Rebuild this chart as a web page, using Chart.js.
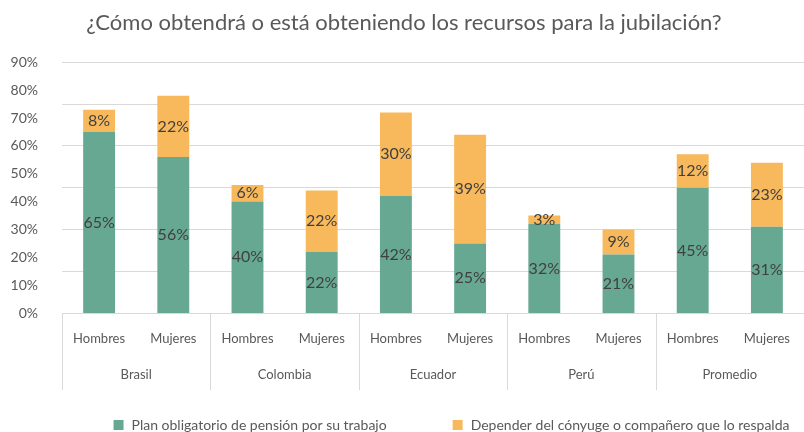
<!DOCTYPE html>
<html><head><meta charset="utf-8">
<script src="https://cdn.jsdelivr.net/npm/chart.js@4.4.1/dist/chart.umd.min.js"></script>
<style>html,body{margin:0;padding:0;background:#fff}#wrap{width:804px;height:432px}</style>
</head><body><div id="wrap"><canvas id="c" width="804" height="432"></canvas></div>
<script>
const titleText = '¿Cómo obtendrá o está obteniendo los recursos para la jubilación?';
const subLabels = ['Hombres','Mujeres','Hombres','Mujeres','Hombres','Mujeres','Hombres','Mujeres','Hombres','Mujeres'];
const groupLabels = ['Brasil','Colombia','Ecuador','Perú','Promedio'];
const planValues = [65,56,40,22,42,25,32,21,45,31];
const conyugeValues = [8,22,6,22,30,39,3,9,12,23];
const seriesNames = ['Plan obligatorio de pensión por su trabajo','Depender del cónyuge o compañero que lo respalda'];
const seriesColors = ['#67A893','#F7B95C'];
const yMax = 90, yLabelStep = 10, yGridStep = 15;

const FONT = 'Lato, "Open Sans", sans-serif';
const TXT = '#595959';

const extras = {
  id: 'extras',
  afterDatasetsDraw(chart) {
    const ctx = chart.ctx;
    ctx.save();
    ctx.font = '16px ' + FONT;
    ctx.fillStyle = '#404040';
    ctx.textAlign = 'center';
    ctx.textBaseline = 'middle';
    chart.data.datasets.forEach((ds, di) => {
      const meta = chart.getDatasetMeta(di);
      meta.data.forEach((el, i) => {
        const v = ds.data[i];
        ctx.fillText(v + '%', el.x, (el.y + el.base) / 2);
      });
    });
    ctx.restore();
  },
  afterDraw(chart) {
    const ctx = chart.ctx;
    const x = chart.scales.x, x2 = chart.scales.x2, ca = chart.chartArea;
    ctx.save();
    ctx.strokeStyle = '#d9d9d9';
    ctx.lineWidth = 1;
    const n = subLabels.length / groupLabels.length;
    for (let g = 0; g <= groupLabels.length; g++) {
      let px;
      if (g === 0) px = x.left;
      else if (g === groupLabels.length) px = x.right - 0.5;
      else px = (x.getPixelForTick(g * n - 1) + x.getPixelForTick(g * n)) / 2;
      px = Math.round(px) + 0.5;
      ctx.beginPath();
      ctx.moveTo(px, ca.bottom);
      ctx.lineTo(px, x2.bottom);
      ctx.stroke();
    }
    // legend
    ctx.font = '14px ' + FONT;
    ctx.textBaseline = 'middle';
    ctx.textAlign = 'left';
    const ly = chart.height - 7;
    const box = 10, gap = 8, itemGap = 66;
    const w1 = ctx.measureText(seriesNames[0]).width;
    const w2 = ctx.measureText(seriesNames[1]).width;
    const total = box + gap + w1 + itemGap + box + gap + w2;
    let lx = ca.left + 44 + (691 - total) / 2;
    seriesNames.forEach((name, i) => {
      ctx.fillStyle = seriesColors[i];
      ctx.fillRect(lx, ly - box / 2, box, box);
      ctx.fillStyle = TXT;
      ctx.fillText(name, lx + box + gap, ly);
      lx += box + gap + (i === 0 ? w1 : w2) + itemGap;
    });
    ctx.restore();
  }
};

new Chart(document.getElementById('c'), {
  type: 'bar',
  data: {
    labels: subLabels,
    datasets: [
      { label: seriesNames[0], data: planValues, backgroundColor: seriesColors[0], barPercentage: 0.43, categoryPercentage: 1, yAxisID: 'y' },
      { label: seriesNames[1], data: conyugeValues, backgroundColor: seriesColors[1], barPercentage: 0.43, categoryPercentage: 1, yAxisID: 'y' }
    ]
  },
  options: {
    responsive: false,
    animation: false,
    layout: { padding: { top: 0, bottom: 42, left: 0, right: -4 } },
    plugins: {
      legend: { display: false },
      tooltip: { enabled: false },
      title: { display: true, text: titleText, color: TXT, font: { family: FONT, size: 22, weight: 'normal' }, padding: { top: 10, bottom: 26 } }
    },
    scales: {
      x: {
        stacked: true,
        grid: { display: false },
        border: { display: true, color: '#d9d9d9' },
        ticks: { color: TXT, font: { family: FONT, size: 13 }, padding: 10, maxRotation: 0, autoSkip: false },
        afterFit(s) { s.height = 43; }
      },
      x2: {
        type: 'category',
        labels: groupLabels,
        position: 'bottom',
        offset: true,
        grid: { display: false },
        border: { display: false },
        ticks: { color: TXT, font: { family: FONT, size: 13 }, padding: 3, maxRotation: 0, autoSkip: false },
        afterFit(s) { s.height = 34; }
      },
      y: {
        stacked: true,
        min: 0, max: yMax,
        grid: { display: false },
        border: { display: false },
        ticks: { stepSize: yLabelStep, color: TXT, font: { family: FONT, size: 14 }, padding: 16, callback: v => v + '%' },
        afterFit(s) { s.width = 62; }
      },
      yg: {
        position: 'right',
        min: 0, max: yMax,
        grid: { color: '#d9d9d9', drawTicks: false },
        border: { display: false },
        ticks: { display: false, stepSize: yGridStep },
        afterFit(s) { s.width = 0; }
      }
    }
  },
  plugins: [extras]
});
</script>
</body></html>
